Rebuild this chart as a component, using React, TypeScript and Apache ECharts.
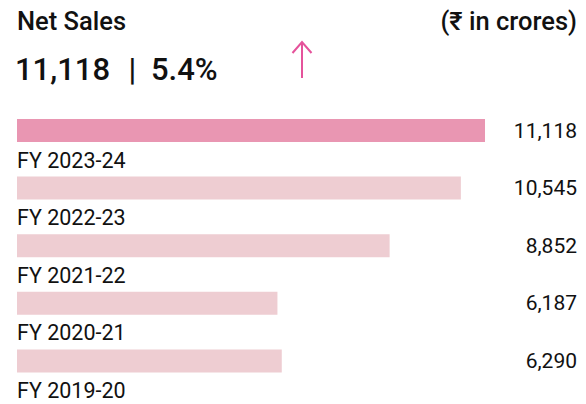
import React, { useEffect, useRef } from "react";
import * as echarts from "echarts";

const categories = ["FY 2023-24", "FY 2022-23", "FY 2021-22", "FY 2020-21", "FY 2019-20"];
const values = [11118, 10545, 8852, 6187, 6290];
const title = "Net Sales";
const unitLabel = "(₹ in crores)";
const growthPct = "5.4%";

const FONT = "Roboto, 'Noto Sans', sans-serif";
const fmt = (v: number) => v.toLocaleString("en-US");

export default function App() {
  const ref = useRef<HTMLDivElement>(null);
  useEffect(() => {
    if (!ref.current) return;
    const chart = echarts.init(ref.current, null, { renderer: "svg" });
    const head = { fontWeight: 500, fill: "#111", fontFamily: FONT, verticalAlign: "middle" };
    chart.setOption({
      animation: false,
      textStyle: { fontFamily: FONT },
      grid: { left: 17, right: 101, top: 101.7, height: 288 },
      xAxis: { type: "value", min: 0, max: "dataMax", show: false },
      yAxis: [
        {
          type: "category",
          inverse: true,
          data: categories,
          axisLine: { show: false },
          axisTick: { show: false },
          axisLabel: { show: false },
        },
        {
          type: "category",
          inverse: true,
          position: "right",
          data: values.map(fmt),
          axisLine: { show: false },
          axisTick: { show: false },
          axisLabel: {
            align: "right",
            margin: 92,
            fontSize: 21,
            color: "#111",
            fontFamily: FONT,
          },
        },
      ],
      series: [
        {
          type: "bar",
          yAxisIndex: 0,
          barWidth: 23,
          data: values.map((v, i) => ({
            value: v,
            itemStyle: { color: i === 0 ? "#e996b2" : "#eecdd2" },
          })),
          label: {
            show: true,
            position: [0, 41],
            align: "left",
            verticalAlign: "middle",
            formatter: "{b}",
            fontSize: 21.5,
            color: "#111",
            fontFamily: FONT,
          },
        },
      ],
      graphic: [
        {
          type: "text",
          x: 17,
          y: 20.5,
          style: { ...head, text: title, fontSize: 25.5, align: "left" },
        },
        {
          type: "text",
          x: 577,
          y: 21,
          style: { ...head, text: unitLabel, fontSize: 25.5, align: "right" },
        },
        {
          type: "text",
          x: 15,
          y: 69.5,
          style: { ...head, text: fmt(values[0]), fontSize: 31, align: "left" },
        },
        {
          type: "text",
          x: 128.5,
          y: 69.5,
          style: { ...head, text: "|", fontSize: 31, align: "left" },
        },
        {
          type: "text",
          x: 151,
          y: 69.5,
          style: { ...head, text: growthPct, fontSize: 31, align: "left" },
        },
        {
          type: "line",
          shape: { x1: 302, y1: 42, x2: 302, y2: 78 },
          style: { stroke: "#e5539b", lineWidth: 2 },
        },
        {
          type: "polyline",
          shape: { points: [[292.5, 53], [302, 42], [311.5, 53]] },
          style: { stroke: "#e5539b", lineWidth: 2, fill: "none" },
        },
      ],
    });
    return () => chart.dispose();
  }, []);
  return (
    <div
      ref={ref}
      style={{ position: "absolute", left: 0, top: 0, width: 586, height: 404 }}
    />
  );
}
